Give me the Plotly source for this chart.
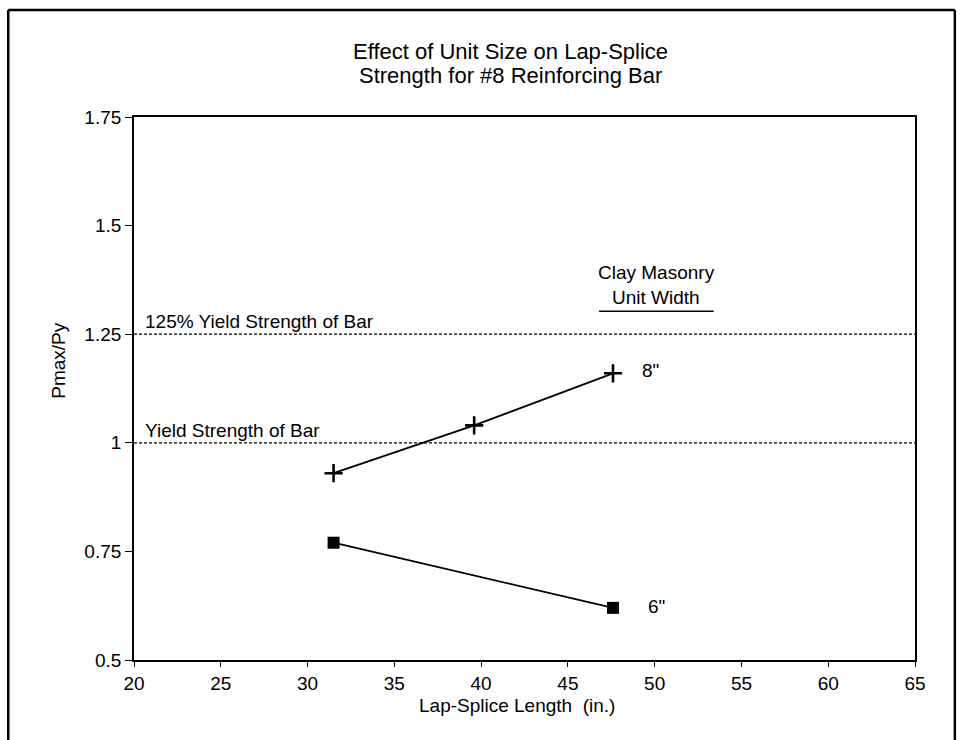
import plotly.graph_objects as go

# Lap-splice test results, #8 bar, by clay masonry unit width
splice_len_8in = [31.5, 39.6, 47.6]
pmax_py_8in = [0.93, 1.04, 1.16]
splice_len_6in = [31.5, 47.6]
pmax_py_6in = [0.77, 0.62]

# Reference strength levels (fraction of bar yield)
ref_levels = [1.25, 1.0]
ref_labels = ["125% Yield Strength of Bar", "Yield Strength of Bar"]

x_ticks = [20, 25, 30, 35, 40, 45, 50, 55, 60, 65]
y_ticks = [0.5, 0.75, 1.0, 1.25, 1.5, 1.75]
y_tick_text = ["0.5", "0.75", "1", "1.25", "1.5", "1.75"]

FONT = "Liberation Sans, Arial, sans-serif"
TXT = dict(family=FONT, size=19, color="black")

fig = go.Figure()

fig.add_trace(go.Scatter(
    x=splice_len_8in, y=pmax_py_8in, mode="lines+markers",
    line=dict(color="black", width=1.8),
    marker=dict(symbol="cross-thin", size=13, color="black",
                line=dict(color="black", width=2.6)),
    showlegend=False,
))
fig.add_trace(go.Scatter(
    x=splice_len_6in, y=pmax_py_6in, mode="lines+markers",
    line=dict(color="black", width=1.8),
    marker=dict(symbol="square", size=12, color="black"),
    showlegend=False,
))

# dashed reference lines with their labels
for lvl, lab in zip(ref_levels, ref_labels):
    fig.add_shape(type="line", xref="paper", yref="y", x0=0, x1=1, y0=lvl, y1=lvl,
                  line=dict(color="black", width=1.2, dash="3px,2px"))
    fig.add_annotation(xref="paper", yref="y", x=0.011, y=lvl, text=lab,
                       showarrow=False, xanchor="left", yanchor="bottom", yshift=0,
                       font=TXT)

# series end labels
fig.add_annotation(x=splice_len_8in[-1], y=pmax_py_8in[-1], text='8"', showarrow=False,
                   xanchor="left", xshift=27, yshift=3, font=TXT)
fig.add_annotation(x=splice_len_6in[-1], y=pmax_py_6in[-1], text='6"', showarrow=False,
                   xanchor="left", xshift=33, yshift=1, font=TXT)

# key heading
fig.add_annotation(x=50.1, y=1.391, text="Clay Masonry", showarrow=False, font=TXT)
fig.add_annotation(x=50.1, y=1.335, text="Unit Width", showarrow=False, font=TXT)
fig.add_shape(type="line", xref="x", yref="y", x0=46.8, x1=53.4, y0=1.303, y1=1.303,
              line=dict(color="black", width=1.5))

# title, two lines
title_lines = ["Effect of Unit Size on Lap-Splice", "Strength for #8 Reinforcing Bar"]
for i, line in enumerate(title_lines):
    fig.add_annotation(xref="paper", yref="paper", x=0.482, y=1.0, yshift=66 - 24 * i,
                       text=line, showarrow=False, yanchor="middle",
                       font=dict(family=FONT, size=22, color="black"))

# y-axis title
fig.add_annotation(xref="paper", yref="y", x=0, xshift=-88, y=1.19,
                   text="Pmax/Py", textangle=-90, showarrow=False, font=TXT)

# x-axis title
fig.add_annotation(xref="paper", yref="paper", x=0.491, y=0, yshift=-45,
                   text="Lap-Splice Length  (in.)", showarrow=False, yanchor="middle",
                   font=TXT)

# page frame
frame = dict(color="black", width=2.5)
fig.add_shape(type="line", xref="paper", yref="paper", x0=-0.161, x1=1.051, y0=1.197, y1=1.197, line=frame)
fig.add_shape(type="line", xref="paper", yref="paper", x0=-0.161, x1=-0.161, y0=1.197, y1=-0.16, line=frame)
fig.add_shape(type="line", xref="paper", yref="paper", x0=1.051, x1=1.051, y0=1.197, y1=-0.16, line=frame)

fig.update_xaxes(
    range=[20, 65], tickvals=x_ticks, ticks="outside", ticklen=5, tickwidth=1.3,
    tickcolor="black", showline=True, linecolor="black", linewidth=1.8, mirror=True,
    showgrid=False, zeroline=False,
    tickfont=dict(family=FONT, size=19, color="black"),
)
fig.update_yaxes(
    range=[0.5, 1.75], tickvals=y_ticks, ticktext=y_tick_text, ticks="outside",
    ticklen=7, tickwidth=1.3, tickcolor="black", showline=True, linecolor="black",
    linewidth=1.8, mirror=True, showgrid=False, zeroline=False,
    tickfont=dict(family=FONT, size=19, color="black"),
)

fig.update_layout(
    width=960, height=740,
    margin=dict(l=134, r=45, t=117, b=80),
    paper_bgcolor="white", plot_bgcolor="white",
    font=dict(family=FONT, color="black"),
)

fig.write_html("out.html")
